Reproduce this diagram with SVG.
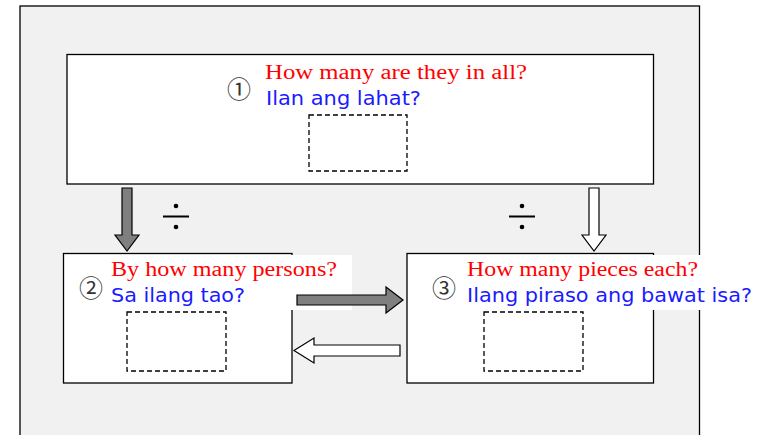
<svg xmlns="http://www.w3.org/2000/svg" width="772" height="435" viewBox="0 0 772 435">
<style>
.box{fill:#fff;stroke:#000;stroke-width:1.3}
.dash{fill:none;stroke:#000;stroke-width:1.3;stroke-dasharray:5 3}
.red{fill:#ff0000;font-family:"Liberation Serif",serif;font-size:20px}
.blue{fill:#1a1aff;font-family:"DejaVu Sans",sans-serif;font-size:19px}
.num{fill:#333;font-family:"Noto Sans CJK JP",sans-serif;font-size:24px;text-anchor:middle}
.ag{fill:#7f7f7f;stroke:#000;stroke-width:1.2}
.aw{fill:#fff;stroke:#000;stroke-width:1.2}
</style>
<rect x="20" y="6" width="679.5" height="440" fill="#f1f1f1" stroke="#000" stroke-width="1.3"/>
<g id="node1">
<rect class="box" x="67" y="54.5" width="586.5" height="129.5"/>
<text class="num" x="239" y="98">①</text>
<text class="red" x="265" y="79" textLength="262" lengthAdjust="spacingAndGlyphs">How many are they in all?</text>
<text class="blue" x="266" y="105" textLength="155" lengthAdjust="spacingAndGlyphs">Ilan ang lahat?</text>
<rect class="dash" x="309" y="115" width="98" height="56"/>
</g>
<g id="node2">
<rect class="box" x="63.5" y="253.5" width="228.5" height="129.5"/>
<rect x="108" y="255" width="244" height="55" fill="#fff"/>
<text class="num" x="91" y="297">②</text>
<text class="red" x="111" y="276" textLength="226" lengthAdjust="spacingAndGlyphs">By how many persons?</text>
<text class="blue" x="111" y="302" textLength="134" lengthAdjust="spacingAndGlyphs">Sa ilang tao?</text>
<rect class="dash" x="127" y="312" width="99" height="59"/>
</g>
<g id="node3">
<rect class="box" x="407" y="253.5" width="246.5" height="129.5"/>
<rect x="463" y="255" width="292" height="55" fill="#fff"/>
<text class="num" x="444" y="297">③</text>
<text class="red" x="467" y="276" textLength="231" lengthAdjust="spacingAndGlyphs">How many pieces each?</text>
<text class="blue" x="467" y="302" textLength="285" lengthAdjust="spacingAndGlyphs">Ilang piraso ang bawat isa?</text>
<rect class="dash" x="484" y="312" width="99" height="59"/>
</g>
<g id="connectors">
<path class="ag" d="M122,188 H132 V235 H139 L127,251 L115,235 H122 Z"/>
<path class="aw" d="M589,188 H599 V235 H606 L594,251 L582,235 H589 Z"/>
<path class="ag" d="M297,295 H386 V287 L403,300 L386,313 V305 H297 Z"/>
<path class="aw" d="M400,345 H314 V338 L294,350.5 L314,363 V356 H400 Z"/>
<g id="div1"><rect x="163" y="215.5" width="26" height="2"/><circle cx="176" cy="206" r="2.3"/><circle cx="176" cy="227" r="2.3"/></g>
<g id="div2"><rect x="509" y="215.5" width="26" height="2"/><circle cx="522" cy="206" r="2.3"/><circle cx="522" cy="227" r="2.3"/></g>
</g>
</svg>
